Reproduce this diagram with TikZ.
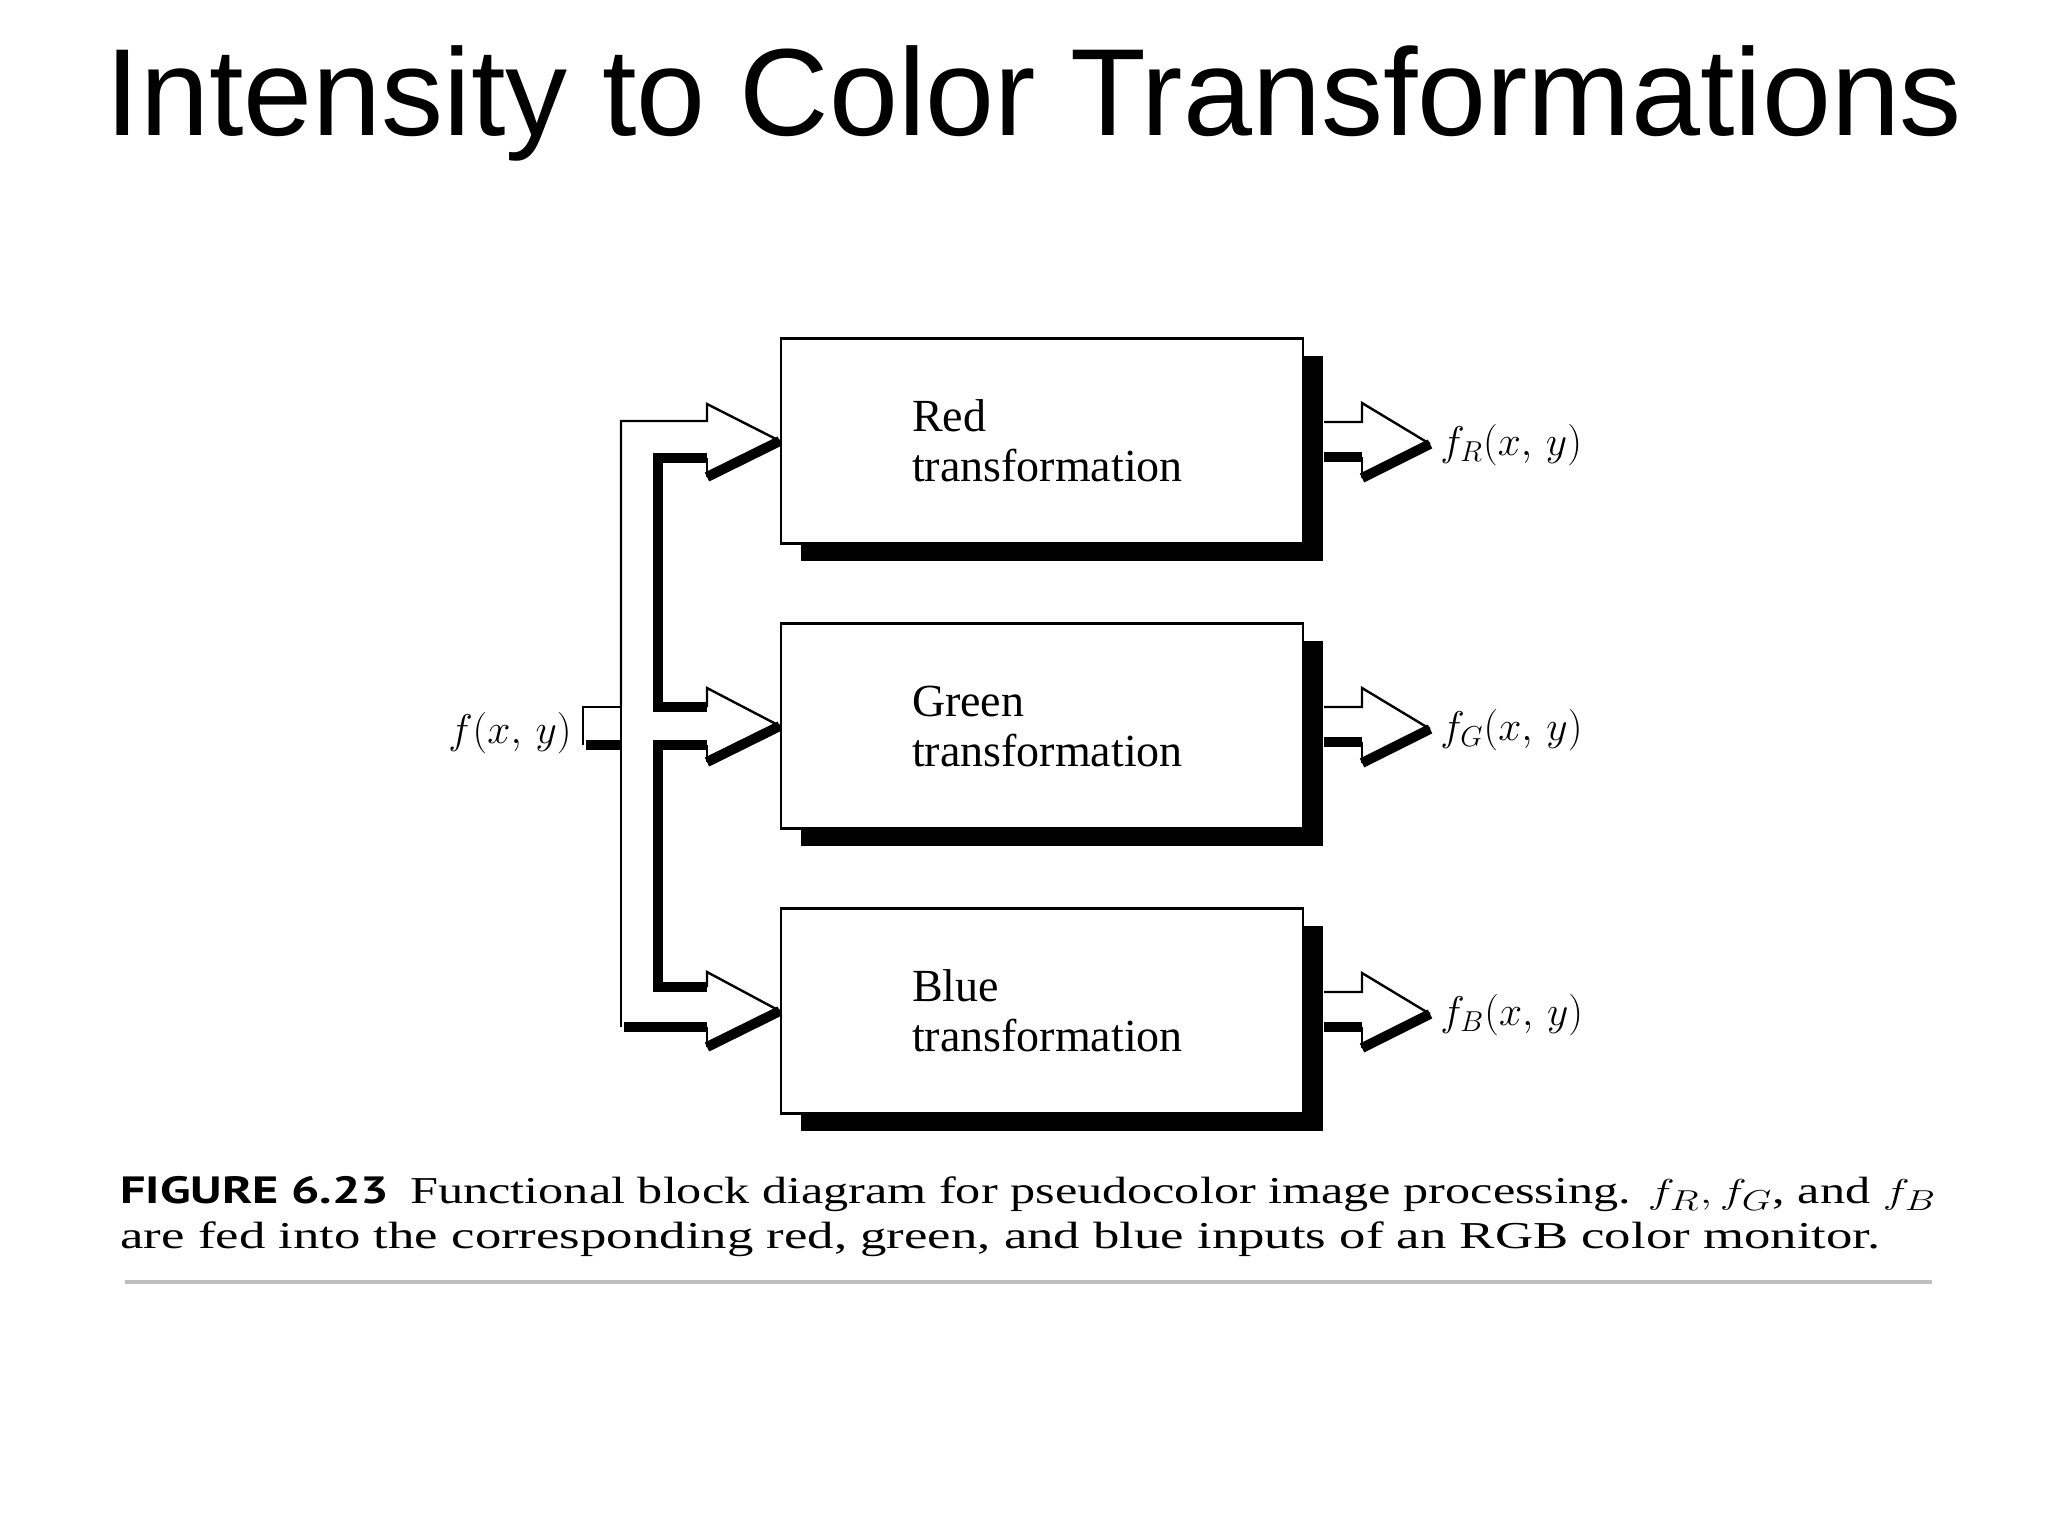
\documentclass[tikz,border=0pt]{standalone}
\usepackage{fontspec}
\setmainfont{Liberation Serif}
\newfontfamily\titlefont{Liberation Sans}
\newfontfamily\capsans{PT Sans}
\usetikzlibrary{shadows}
\tikzset{
  box/.style={draw,line width=1.2pt,fill=white,minimum width=261pt,minimum height=102.5pt,
    align=left,font=\fontsize{23}{25}\selectfont,text width=130pt,
    drop shadow={shadow xshift=10pt,shadow yshift=-8.5pt,opacity=1,fill=black}},
  thin/.style={line width=1.2pt,line join=miter},
  thick/.style={line width=5pt,line join=miter},
  lab/.style={anchor=base west,inner sep=0pt,font=\fontsize{22}{25}\selectfont}
}
\begin{document}
\begin{tikzpicture}[x=0.5pt,y=-0.5pt]
\useasboundingbox (0,0) rectangle (2048,1536);
\node[anchor=base,inner sep=0pt,font=\titlefont\fontsize{62}{70}\selectfont] (title) at (1034,135) {Intensity to Color Transformations};
\node[box] (red) at (1042,441) {Red\\transformation};
\node[box] (green) at (1042,726) {Green\\transformation};
\node[box] (blue) at (1042,1011) {Blue\\transformation};
\node[lab,anchor=base east] (in) at (572,743) {$f(x,\,y)$};
% input bus
\draw[thin] (583,745)--(583,707)--(621,707)--(621,1027);
\draw[thin] (621,707)--(621,421)--(707,421)--(707,404)--(red.west);
\draw[thick] (red.west)--(707,477);
\draw[thin] (707,477)--(707,458);
\draw[thick] (707,458)--(658,458)--(658,707)--(707,707);
\draw[thin] (707,707)--(707,688)--(green.west);
\draw[thick] (green.west)--(707,762);
\draw[thin] (707,762)--(707,745);
\draw[thick] (707,745)--(658,745)--(658,987)--(707,987);
\draw[thin] (707,987)--(707,972)--(blue.west);
\draw[thick] (blue.west)--(707,1047);
\draw[thin] (707,1047)--(707,1027);
\draw[thick] (707,1027)--(624,1027);
\draw[thick] (586,745)--(621,745);
% outputs
\foreach \b/\c/\s in {red/441/R,green/726/G,blue/1011/B}{
  \coordinate (tip\b) at (1430,\c+3);
  \draw[thin] (1324,\c-19)--(1362,\c-19)--(1362,\c-38)--(tip\b);
  \draw[thick] (tip\b)--(1362,\c+37);
  \draw[thin] (1362,\c+37)--(1362,\c+16);
  \draw[thick] (1362,\c+16)--(1324,\c+16);
  \node[lab] (out\b) at (1440,\c+14) {$f_{\s}(x,\,y)$};
}
% caption
\node[anchor=base west,inner sep=0pt,font=\fontsize{19}{22}\selectfont] (cap1) at (120,1203)
  {\resizebox{908pt}{\height}{{\capsans\bfseries FIGURE 6.23}\hspace{8pt}Functional block diagram for pseudocolor image processing. $f_R, f_G$, and $f_B$}};
\node[anchor=base west,inner sep=0pt,font=\fontsize{19}{22}\selectfont] (cap2) at (120,1248)
  {\resizebox{880pt}{\height}{are fed into the corresponding red, green, and blue inputs of an RGB color monitor.}};
\draw[line width=2pt,gray!50] (125,1282)--(1932,1282);
\end{tikzpicture}
\end{document}
